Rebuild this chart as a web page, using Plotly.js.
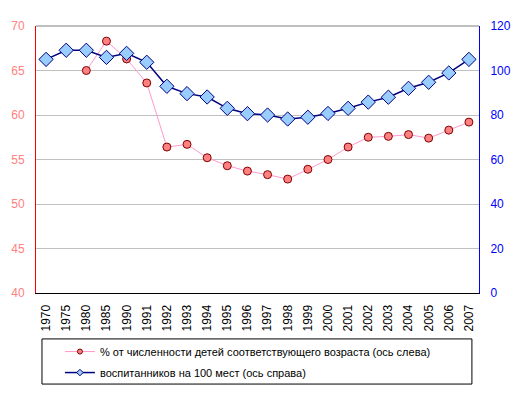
<!DOCTYPE html>
<html>
<head>
<meta charset="utf-8">
<script src="https://cdn.plot.ly/plotly-3.0.1.min.js"></script>
<style>html,body{margin:0;padding:0;background:#fff;}#chart{width:517px;height:393px;}</style>
</head>
<body>
<div id="chart"></div>
<script>
var years = ["1970","1975","1980","1985","1990","1991","1992","1993","1994","1995","1996","1997","1998","1999","2000","2001","2002","2003","2004","2005","2006","2007"];
var sharePct = [null,null,65.0,68.3,66.3,63.6,56.4,56.7,55.2,54.3,53.7,53.3,52.8,53.9,55.0,56.4,57.5,57.6,57.8,57.4,58.3,59.2];
var per100 = [105.0,109.1,109.1,105.9,107.7,103.7,92.9,89.6,88.1,83.0,80.6,80.0,78.2,79.0,80.7,83.0,85.8,88.0,92.0,94.7,98.9,105.0];
var name1 = "% от численности детей соответствующего возраста (ось слева)";
var name2 = "воспитанников на 100 мест (ось справа)";

var font = "Liberation Sans, Arial, sans-serif";
var c1 = {line: "#FF99CC", fill: "#FF8080", edge: "#800000"};
var c2 = {line: "#000080", fill: "#99CCFF", edge: "#000080"};
var traces = [
  {x: years, y: sharePct, name: name1, type: "scatter", mode: "lines+markers", yaxis: "y", showlegend: false,
   line: {color: c1.line, width: 1},
   marker: {symbol: "circle", size: 8, color: c1.fill, line: {color: c1.edge, width: 1}}},
  {x: years, y: per100, name: name2, type: "scatter", mode: "lines+markers", yaxis: "y2", showlegend: false,
   line: {color: c2.line, width: 1.5},
   marker: {symbol: "diamond", size: 11, color: c2.fill, line: {color: c2.edge, width: 1}}},
  // legend entries (small symbols like the reference legend)
  {x: [null], y: [null], name: name1, type: "scatter", mode: "lines+markers", yaxis: "y", legendgroup: "a",
   line: {color: c1.line, width: 1},
   marker: {symbol: "circle", size: 5, color: c1.fill, line: {color: c1.edge, width: 1}}},
  {x: [null], y: [null], name: name2, type: "scatter", mode: "lines+markers", yaxis: "y2", legendgroup: "b",
   line: {color: c2.line, width: 1.5},
   marker: {symbol: "diamond", size: 5, color: c2.fill, line: {color: c2.edge, width: 1}}}
];
var layout = {
  width: 517, height: 393,
  margin: {l: 36, r: 38, t: 26, b: 100, autoexpand: false},
  paper_bgcolor: "#fff", plot_bgcolor: "#fff",
  font: {family: font, size: 12, color: "#000"},
  showlegend: true,
  xaxis: {type: "category", range: [-0.5, years.length - 0.5], automargin: false, showline: true, linecolor: "#000", linewidth: 1, showgrid: false,
          tickangle: -90, ticks: "", ticklabelstandoff: 6, tickfont: {size: 12, color: "#000"}, zeroline: false},
  yaxis: {range: [40, 70], dtick: 5, automargin: false, showline: true, linecolor: "#FF0000", linewidth: 1,
          gridcolor: "#C0C0C0", gridwidth: 1, zeroline: false, ticks: "", ticklabelstandoff: 8,
          tickfont: {size: 12, color: "#FF8080"}},
  yaxis2: {range: [0, 120], dtick: 20, automargin: false, overlaying: "y", side: "right", showline: true,
           linecolor: "#0000FF", linewidth: 1, showgrid: false, zeroline: false, ticks: "",
           ticklabelstandoff: 8, tickfont: {size: 12, color: "#0000FF"}},
  legend: {x: 0.054, y: -0.165, xanchor: "left", yanchor: "top", bgcolor: "rgba(0,0,0,0)",
           borderwidth: 0, font: {size: 11, color: "#000"}, tracegroupgap: 2},
  shapes: [
    {type: "line", xref: "paper", yref: "paper", x0: 0, x1: 1, y0: 1, y1: 1, line: {color: "#808080", width: 1}},
    {type: "rect", xref: "paper", yref: "paper", x0: 0.0135, x1: 0.984, y0: -0.172, y1: -0.341,
     line: {color: "#000", width: 1}, fillcolor: "rgba(0,0,0,0)"}
  ]
};
Plotly.newPlot("chart", traces, layout, {displayModeBar: false, staticPlot: true});
</script>
</body>
</html>
